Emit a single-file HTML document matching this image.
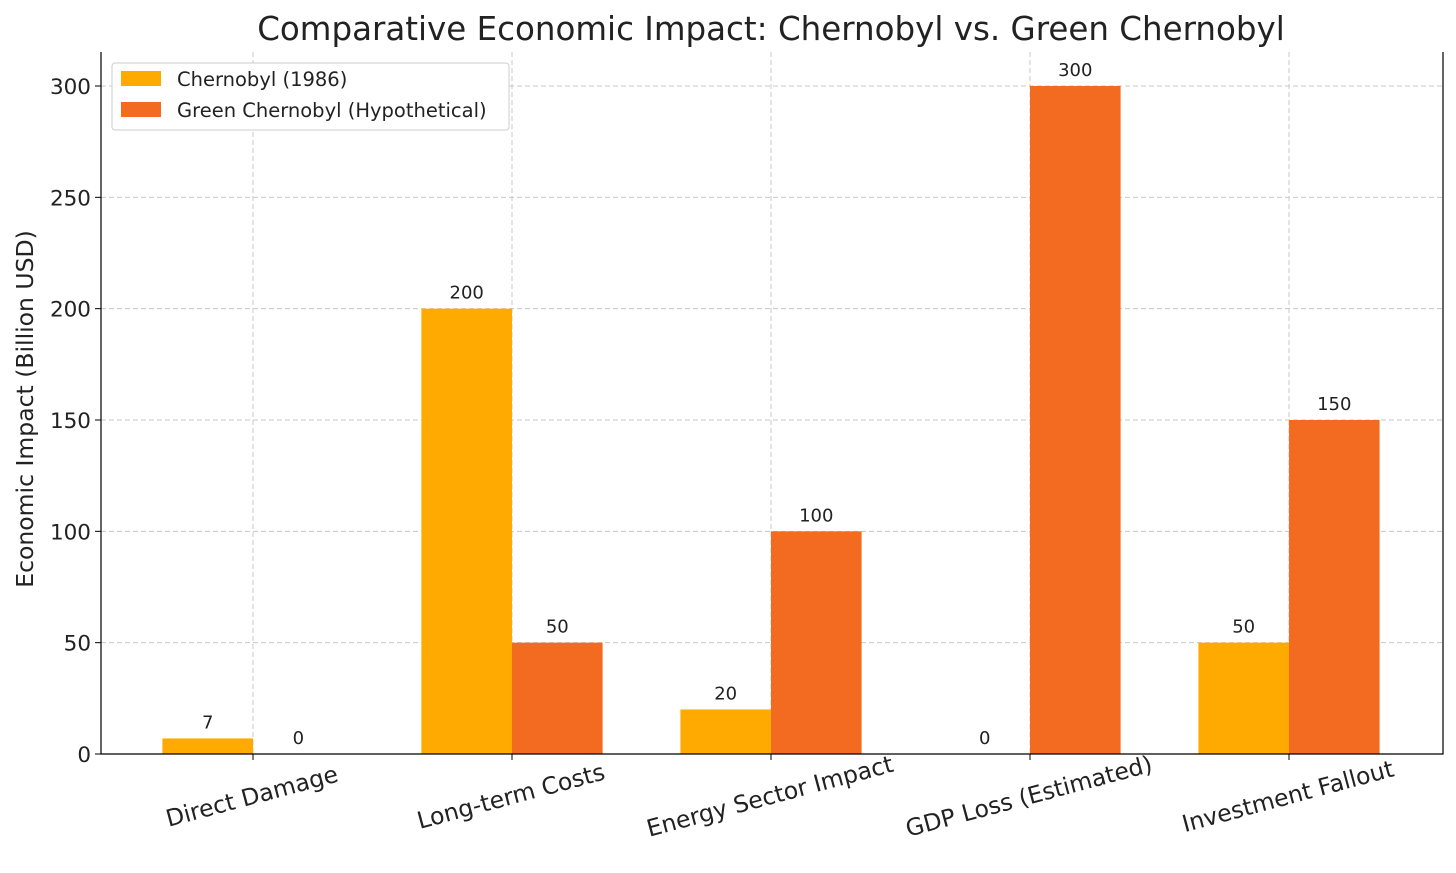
<!DOCTYPE html>
<html><head><meta charset="utf-8"><style>
body{margin:0;background:#fff;}
svg text{font-family:"DejaVu Sans","Liberation Sans",sans-serif;fill:#222;}
</style></head><body>
<svg id="chart" width="1456" height="868" xmlns="http://www.w3.org/2000/svg">
<text x="771" y="40" font-size="32.5" text-anchor="middle">Comparative Economic Impact: Chernobyl vs. Green Chernobyl</text>
<text transform="translate(33,409) rotate(-90)" font-size="23.5" text-anchor="middle">Economic Impact (Billion USD)</text>
<g id="grid"></g><g id="bars"></g><g id="axes"></g>
<g>
<rect x="112" y="63" width="397" height="67" fill="#fff" stroke="#ccc" rx="3"/>
<rect x="121" y="71" width="40" height="15" fill="#FFAA00"/>
<text x="177" y="86" font-size="19.5">Chernobyl (1986)</text>
<rect x="121" y="102" width="40" height="15" fill="#F26B21"/>
<text x="177" y="117" font-size="19.5">Green Chernobyl (Hypothetical)</text>
</g>
</svg>
<script>
const categories=["Direct Damage","Long-term Costs","Energy Sector Impact","GDP Loss (Estimated)","Investment Fallout"];
const chernobyl=[7,200,20,0,50];
const green=[0,50,100,300,150];
const yTicks=[0,50,100,150,200,250,300];
const NS="http://www.w3.org/2000/svg";
const L=101,R=1443,T=52,B=754;
const y=v=>B-v*(754-86)/300;
const xc=i=>253+i*259;
const bw=90.6;
function mk(tag,attrs,parent){const e=document.createElementNS(NS,tag);for(const k in attrs)e.setAttribute(k,attrs[k]);document.getElementById(parent).appendChild(e);return e;}
yTicks.forEach(t=>{
 const g=mk('line',{x1:L,x2:R,y1:y(t),y2:y(t),stroke:'#c8c8c8','stroke-dasharray':'5,3'},'grid');
 
 
 const tk=mk('line',{x1:L-6,x2:L,y1:y(t),y2:y(t),stroke:'#000'},'axes');
 
 
 const tx=mk('text',{x:L-10,y:y(t)+8,'font-size':21.5,'text-anchor':'end'},'axes');tx.textContent=t;
 
 
});
categories.forEach((c,i)=>{
 const g=mk('line',{x1:xc(i),x2:xc(i),y1:T,y2:B,stroke:'#c8c8c8','stroke-dasharray':'5,3'},'grid');
 
 
 [[chernobyl,'#FFAA00',-1,'bar-chernobyl'],[green,'#F26B21',0,'bar-green']].forEach(([arr,col,off,nm])=>{
  const v=arr[i];const x0=xc(i)+off*bw;
  const r=mk('rect',{x:x0,y:y(v),width:bw,height:B-y(v),fill:col},'bars');
  
  
  const t=mk('text',{x:x0+bw/2,y:y(v)-10,'font-size':18,'text-anchor':'middle'},'bars');t.textContent=v;
  
  
 });
 const tk=mk('line',{x1:xc(i),x2:xc(i),y1:B,y2:B+6,stroke:'#000'},'axes');
 
 
 const lx=xc(i)+1,ly=B+50;
 const tx=mk('text',{x:lx,y:ly,'font-size':23.5,'text-anchor':'middle',transform:`rotate(-15 ${lx} ${ly})`},'axes');tx.textContent=c;
 
 
});
const ax=mk('path',{d:`M${L},${T} V${B} H${R} V${T}`,fill:'none',stroke:'#000','stroke-width':1.2},'axes');


</script>
</body></html>
